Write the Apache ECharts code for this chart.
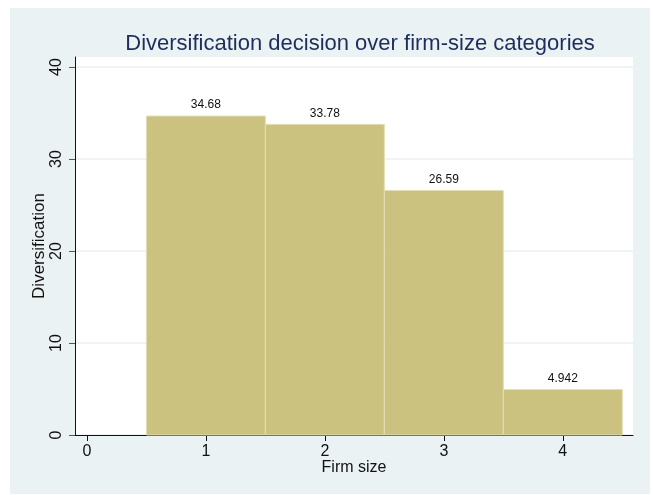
<!DOCTYPE html>
<html>
<head>
<meta charset="utf-8">
<script src="https://cdn.jsdelivr.net/npm/echarts@6/dist/echarts.min.js"></script>
<style>
  * { margin: 0; padding: 0; }
  body { background: #ffffff; }
  #chart-container { width: 653px; height: 495px; }
</style>
</head>
<body>
<div id="chart-container"></div>
<script>
  // firm-size categories and diversification means
  var firmSize = [1, 2, 3, 4]
  var diversification = [34.68, 33.78, 26.59, 4.942]
  var xTicks = [0, 1, 2, 3, 4]
  var yTicks = [0, 10, 20, 30, 40]

  var chartDom = document.getElementById('chart-container')
  var myChart = echarts.init(chartDom, null, { renderer: 'canvas' })

  var barData = firmSize.map(function (s, i) {
    return [s, diversification[i]]
  })

  var option = {
    backgroundColor: '#ffffff',
    textStyle: { fontFamily: 'Liberation Sans' },
    graphic: [
      {
        type: 'rect',
        z: -10,
        silent: true,
        shape: { x: 10, y: 8, width: 640, height: 486 },
        style: { fill: '#EAF2F3' },
      },
    ],
    title: {
      text: 'Diversification decision over firm-size categories',
      left: 355,
      top: 28,
      textAlign: 'center',
      textStyle: {
        fontSize: 22,
        fontWeight: 'normal',
        color: '#1E2E5C',
        fontFamily: 'Liberation Sans',
      },
    },
    grid: {
      left: 75,
      right: 20,
      top: 57,
      bottom: 60,
      show: true,
      backgroundColor: '#ffffff',
      borderWidth: 0,
    },
    xAxis: {
      type: 'value',
      min: -0.1,
      max: 4.59,
      name: 'Firm size',
      nameLocation: 'middle',
      nameGap: 25,
      nameMoveOverlap: false,
      nameTextStyle: { fontSize: 16, color: '#111' },
      axisLine: { show: true, onZero: false, lineStyle: { color: '#111', width: 1 } },
      axisTick: { show: true, customValues: xTicks, length: 6, lineStyle: { color: '#111' } },
      axisLabel: { customValues: xTicks, fontSize: 16, color: '#111', margin: 9 },
      splitLine: { show: false },
    },
    yAxis: {
      type: 'value',
      min: 0,
      max: 41.1,
      name: 'Diversification',
      nameLocation: 'middle',
      nameGap: 27,
      nameMoveOverlap: false,
      nameTextStyle: { fontSize: 17, color: '#111' },
      axisLine: { show: true, onZero: false, lineStyle: { color: '#111', width: 1 } },
      axisTick: { show: true, customValues: yTicks, length: 6, lineStyle: { color: '#555' } },
      axisLabel: { customValues: yTicks, fontSize: 16, color: '#111', rotate: 90, margin: 10 },
      splitLine: { show: true, lineStyle: { color: '#EAF2F3', width: 1.5 } },
    },
    series: [
      {
        name: 'Diversification',
        type: 'custom',
        data: barData,
        renderItem: function (params, api) {
          var s = api.value(0)
          var v = api.value(1)
          var p0 = api.coord([s - 0.5, v])
          var p1 = api.coord([s + 0.5, 0])
          return {
            type: 'group',
            children: [
              {
                type: 'rect',
                shape: { x: p0[0], y: p0[1], width: p1[0] - p0[0], height: p1[1] - p0[1] },
                style: { fill: '#CAC27E', stroke: '#E2DEB6', lineWidth: 1 },
              },
              {
                type: 'text',
                style: {
                  text: String(v),
                  x: (p0[0] + p1[0]) / 2,
                  y: p0[1] - 5,
                  textAlign: 'center',
                  textVerticalAlign: 'bottom',
                  fontSize: 12,
                  fontFamily: 'Liberation Sans',
                  fill: '#111',
                },
              },
            ],
          }
        },
      },
    ],
  }

  myChart.setOption(option)
  window.addEventListener('resize', myChart.resize)
</script>
</body>
</html>
